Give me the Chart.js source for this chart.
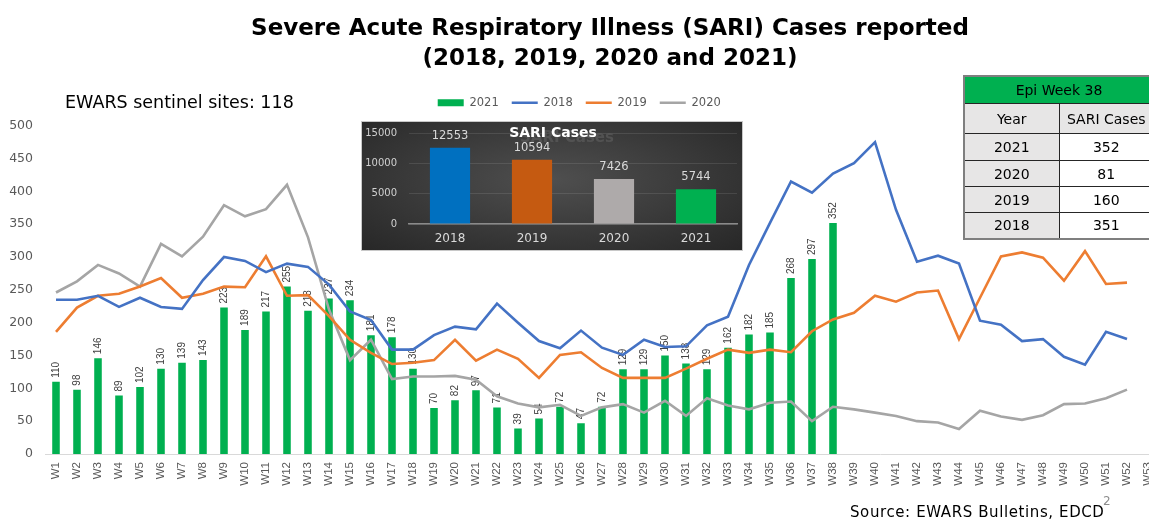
<!DOCTYPE html>
<html><head><meta charset="utf-8">
<script src="https://cdn.jsdelivr.net/npm/chart.js@4.4.0/dist/chart.umd.min.js"></script>
<style>
html,body{margin:0;padding:0;background:#fff;overflow:hidden;width:1149px;height:521px;}
#wrap{position:relative;width:1149px;height:521px;overflow:hidden;background:#fff;}
#main{position:absolute;left:0;top:0;}
#title{position:absolute;left:0;top:12px;width:1220px;text-align:center;font:bold 23px 'DejaVu Sans';line-height:30px;color:#000;white-space:nowrap;}
#sites{position:absolute;left:65px;top:92px;font:17.5px 'DejaVu Sans';line-height:20px;color:#000;white-space:nowrap;}
#inset{position:absolute;left:362px;top:122px;width:380px;height:128px;background:radial-gradient(ellipse at 50% 45%,#4f4f4f 0%,#3d3d3d 45%,#272727 100%);outline:1px solid #c8c8c8;}
#inset canvas{position:absolute;left:0;top:0;}
#tbl{position:absolute;left:963px;top:75px;border-collapse:collapse;font:14px 'DejaVu Sans';color:#000;width:192px;border:2px solid #7f7f7f;}
#tbl td,#tbl th{border:1px solid #262626;text-align:center;padding:0;font-weight:normal;}
#tbl th{background:#00B050;height:25px;}
#tbl td.l{background:#E7E6E6;width:72px;}
#tbl td.r{background:#fff;}
#source{position:absolute;left:850px;top:504px;font:15px 'DejaVu Sans';letter-spacing:0.6px;line-height:17px;color:#000;white-space:nowrap;}
#sup{position:absolute;left:1103px;top:494px;font:12px 'DejaVu Sans';color:#8c8c8c;}
</style></head>
<body>
<div id="wrap">
  <canvas id="main" width="1160" height="521"></canvas>
  <div id="title">Severe Acute Respiratory Illness (SARI) Cases reported<br>(2018, 2019, 2020 and 2021)</div>
  <div id="sites">EWARS sentinel sites: 118</div>
  <div id="inset"><canvas id="ins" width="380" height="128"></canvas></div>
  <table id="tbl"></table>
  <div id="source">Source: EWARS Bulletins, EDCD</div>
  <div id="sup">2</div>
</div>
<script>
const weeks = ['W1','W2','W3','W4','W5','W6','W7','W8','W9','W10','W11','W12','W13','W14','W15','W16','W17','W18','W19','W20','W21','W22','W23','W24','W25','W26','W27','W28','W29','W30','W31','W32','W33','W34','W35','W36','W37','W38','W39','W40','W41','W42','W43','W44','W45','W46','W47','W48','W49','W50','W51','W52','W53'];
const cases2021 = [110,98,146,89,102,130,139,143,223,189,217,255,218,237,234,181,178,130,70,82,97,71,39,54,72,47,72,129,129,150,138,129,162,182,185,268,297,352];
const cases2018 = [235,235,241,224,238,224,221,265,300,294,277,290,285,258,217,204,159,159,181,194,190,229,200,172,161,188,162,151,174,163,164,196,209,288,352,415,398,427,443,475,372,293,302,290,203,197,172,175,148,136,186,175];
const cases2019 = [186,223,241,244,255,268,238,244,255,254,301,241,242,210,174,154,137,139,143,174,142,159,145,116,151,155,131,116,116,116,130,145,159,154,159,155,187,205,215,241,232,246,249,175,238,301,307,299,264,309,259,261];
const cases2020 = [246,263,288,275,255,320,301,331,379,362,373,410,330,220,143,174,114,118,118,119,113,88,77,71,75,58,71,76,63,81,58,85,74,68,78,80,50,72,68,63,58,50,48,38,66,57,52,59,76,77,85,98];
const yTickValues = [0,50,100,150,200,250,300,350,400,450,500];

const insetYears = ['2018','2019','2020','2021'];
const insetTotals = [12553,10594,7426,5744];
const insetTicks = [0,5000,10000,15000];

const tableHeader = 'Epi Week 38';
const tableCols = ['Year','SARI Cases'];
const tableYears = ['2021','2020','2019','2018'];
const tableCases = [352,81,160,351];

const C = {g:'#00B050', b:'#4472C4', o:'#ED7D31', gr:'#A5A5A5'};

// table
(function(){
  const t = document.getElementById('tbl');
  const hs = [26,30,27,26,26,26];
  let h = '<tr><th colspan="2" style="height:'+hs[0]+'px">'+tableHeader+'</th></tr>';
  h += '<tr style="height:'+hs[1]+'px"><td class="l">'+tableCols[0]+'</td><td class="l">'+tableCols[1]+'</td></tr>';
  tableYears.forEach((y,i)=>{ h += '<tr style="height:'+hs[i+2]+'px"><td class="l">'+y+'</td><td class="r">'+tableCases[i]+'</td></tr>'; });
  t.innerHTML = h;
})();

const barLabels = {
  id:'barLabels',
  afterDatasetDraw(chart, args){
    if (args.index !== 0) return;
    const ctx = chart.ctx;
    const ds = chart.data.datasets[0];
    ctx.save();
    ctx.fillStyle = '#404040';
    ctx.font = "10px 'Liberation Sans Narrow', 'Liberation Sans', Arial";
    ctx.textAlign = 'left';
    ctx.textBaseline = 'middle';
    args.meta.data.forEach((el,i)=>{
      const v = ds.data[i];
      if (v == null) return;
      ctx.save();
      ctx.translate(el.x, el.y - 4);
      ctx.rotate(-Math.PI/2);
      ctx.fillText(String(v), 0, 0);
      ctx.restore();
    });
    ctx.restore();
  }
};

new Chart(document.getElementById('main'), {
  type:'bar',
  data:{
    labels: weeks,
    datasets:[
      {label:'2021', type:'bar', data:cases2021, backgroundColor:C.g, borderWidth:0, barPercentage:0.36, categoryPercentage:1, order:4},
      {label:'2018', type:'line', data:cases2018, borderColor:C.b, backgroundColor:C.b, borderWidth:2.6, pointRadius:0, tension:0, fill:false, order:1},
      {label:'2019', type:'line', data:cases2019, borderColor:C.o, backgroundColor:C.o, borderWidth:2.6, pointRadius:0, tension:0, fill:false, order:2},
      {label:'2020', type:'line', data:cases2020, borderColor:C.gr, backgroundColor:C.gr, borderWidth:2.6, pointRadius:0, tension:0, fill:false, order:3}
    ]
  },
  options:{
    responsive:false,
    animation:false,
    events:[],
    layout:{padding:{top:84,left:0,right:1.5,bottom:0}},
    plugins:{
      title:{display:false},
      tooltip:{enabled:false},
      legend:{
        display:true, position:'top',
        labels:{
          usePointStyle:true, pointStyleWidth:26, boxHeight:7, padding:13,
          color:'#595959', font:{family:'DejaVu Sans', size:11.5},
          generateLabels(chart){
            const items = Chart.defaults.plugins.legend.labels.generateLabels(chart);
            items.forEach(it=>{
              const ds = chart.data.datasets[it.datasetIndex];
              if (it.datasetIndex === 0){ it.pointStyle='rect'; it.fillStyle=ds.backgroundColor; it.strokeStyle=ds.backgroundColor; it.lineWidth=0; }
              else { it.pointStyle='line'; it.strokeStyle=ds.borderColor; it.fillStyle=ds.borderColor; it.lineWidth=2.6; }
            });
            return items.sort((a,b)=>a.datasetIndex-b.datasetIndex);
          }
        }
      }
    },
    scales:{
      x:{
        grid:{display:false, drawTicks:false},
        border:{display:true, color:'#D9D9D9', width:1},
        ticks:{autoSkip:false, maxRotation:90, minRotation:90, padding:8, color:'#595959', font:{family:'Liberation Sans', size:11.5}},
        afterFit(s){ s.height = 67; s.paddingLeft = 0; s.paddingRight = 0; }
      },
      y:{
        min:0, max:511,
        grid:{display:false, drawTicks:false},
        border:{display:false},
        afterBuildTicks(s){ s.ticks = yTickValues.map(v=>({value:v})); },
        ticks:{padding:12.5, color:'#595959', font:{family:'DejaVu Sans', size:12.5}, callback:(v)=>String(v)},
        afterFit(s){ s.width = 45.5; s.paddingTop = 0; s.paddingBottom = 0; }
      }
    }
  },
  plugins:[barLabels]
});

const insetDeco = {
  id:'insetDeco',
  beforeDatasetsDraw(chart){
    const ctx = chart.ctx;
    ctx.save();
    ctx.font = "bold 15px 'DejaVu Sans'";
    ctx.textAlign = 'center'; ctx.textBaseline = 'middle';
    ctx.fillStyle = 'rgba(90,90,90,0.75)';
    ctx.fillText('SARI Cases', 205, 16);
    ctx.restore();
  },
  afterDatasetsDraw(chart){
    const ctx = chart.ctx;
    const meta = chart.getDatasetMeta(0);
    ctx.save();
    ctx.font = "11.5px 'DejaVu Sans'";
    ctx.fillStyle = '#d9d9d9';
    ctx.textAlign = 'center'; ctx.textBaseline = 'middle';
    meta.data.forEach((el,i)=>{ ctx.fillText(String(insetTotals[i]), el.x, el.y - 12); });
    ctx.font = "bold 14px 'DejaVu Sans'";
    ctx.fillStyle = '#ffffff';
    ctx.fillText('SARI Cases', 191, 11);
    ctx.restore();
  }
};

new Chart(document.getElementById('ins'), {
  type:'bar',
  data:{
    labels: insetYears,
    datasets:[{label:'SARI Cases', data:insetTotals, backgroundColor:['#0070C0','#C55A11','#AEAAAA','#00B050'], borderWidth:0, barPercentage:0.49, categoryPercentage:1}]
  },
  options:{
    responsive:false, animation:false, events:[],
    layout:{padding:{top:11,right:5,left:0,bottom:0}},
    plugins:{legend:{display:false}, tooltip:{enabled:false}, title:{display:false}},
    scales:{
      x:{
        grid:{display:false, drawTicks:false},
        border:{display:true, color:'#8a8a8a', width:1.5},
        ticks:{padding:8, color:'#d9d9d9', font:{family:'DejaVu Sans', size:12}},
        afterFit(s){ s.height = 26; s.paddingLeft = 0; s.paddingRight = 0; }
      },
      y:{
        min:0, max:15000,
        grid:{color:'rgba(255,255,255,0.10)', drawTicks:false},
        border:{display:false},
        afterBuildTicks(s){ s.ticks = insetTicks.map(v=>({value:v})); },
        ticks:{padding:12, color:'#d0d0d0', font:{family:'DejaVu Sans', size:10}, callback:(v)=>String(v)},
        afterFit(s){ s.width = 47; s.paddingTop = 0; s.paddingBottom = 0; }
      }
    }
  },
  plugins:[insetDeco]
});
</script>
</body></html>
